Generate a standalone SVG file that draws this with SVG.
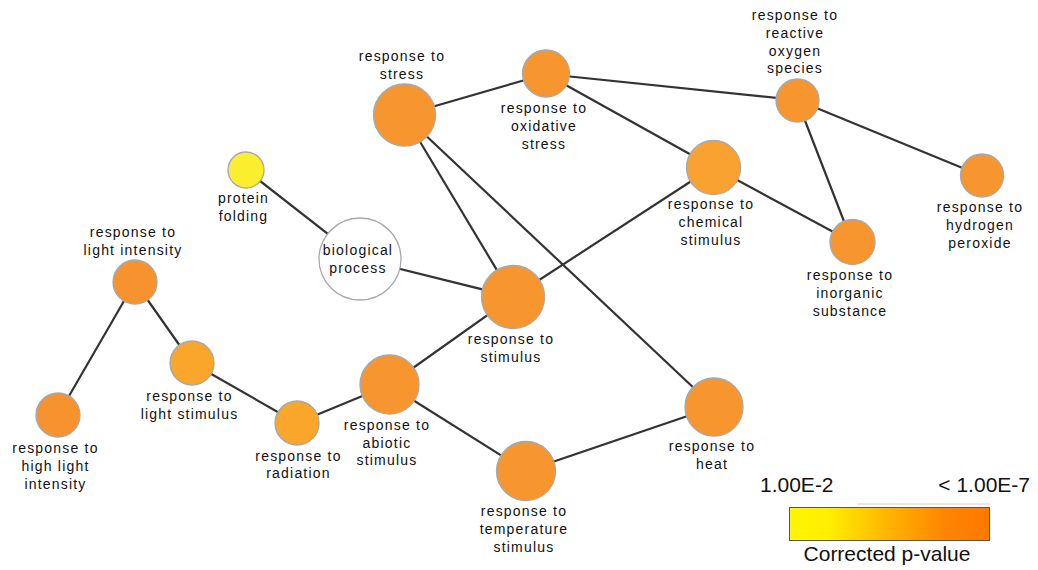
<svg xmlns="http://www.w3.org/2000/svg" width="1038" height="570" viewBox="0 0 1038 570">
<defs>
<linearGradient id="pv" x1="0" y1="0" x2="1" y2="0">
<stop offset="0" stop-color="#FFF700"/>
<stop offset="0.2" stop-color="#FFEE00"/>
<stop offset="0.5" stop-color="#FFB300"/>
<stop offset="0.78" stop-color="#FF8500"/>
<stop offset="1" stop-color="#FF7800"/>
</linearGradient>
</defs>
<style>
.e{stroke:#333;stroke-width:2.2;fill:none;stroke-linecap:round}
.n{stroke:#a8a8a8;stroke-width:1.3}
.o{fill:#F7962F}
.o2{fill:#F7932F}
.l{fill:#F9A62B}
.c{fill:#F9A231}
.y{fill:#FAEE2E}
.w{fill:#fff}
text{font-family:"Liberation Sans",Arial,Helvetica,sans-serif;fill:#111}
.t{font-size:14px;letter-spacing:1.2px;text-anchor:middle}
.g{font-size:21px}
</style>
<rect width="1038" height="570" fill="#fff"/>
<g id="connectors">
<line class="e" x1="404" y1="115" x2="546" y2="74"/>
<line class="e" x1="546" y1="74" x2="797" y2="100"/>
<line class="e" x1="546" y1="74" x2="713" y2="167"/>
<line class="e" x1="797" y1="100" x2="982" y2="176"/>
<line class="e" x1="797" y1="100" x2="852" y2="242"/>
<line class="e" x1="713" y1="167" x2="852" y2="242"/>
<line class="e" x1="713" y1="167" x2="513" y2="297"/>
<line class="e" x1="404" y1="115" x2="513" y2="297"/>
<line class="e" x1="404" y1="115" x2="714" y2="407"/>
<line class="e" x1="246" y1="170" x2="360" y2="259"/>
<line class="e" x1="360" y1="259" x2="513" y2="297"/>
<line class="e" x1="513" y1="297" x2="389" y2="385"/>
<line class="e" x1="389" y1="385" x2="297" y2="423"/>
<line class="e" x1="389" y1="385" x2="526" y2="471"/>
<line class="e" x1="526" y1="471" x2="714" y2="407"/>
<line class="e" x1="297" y1="423" x2="192" y2="363"/>
<line class="e" x1="192" y1="363" x2="135" y2="282"/>
<line class="e" x1="135" y1="282" x2="58" y2="415"/>
</g>
<g id="n-stress"><circle class="n o" cx="404.5" cy="115" r="31"/><text class="t" x="402" y="61">response to</text><text class="t" x="402" y="79">stress</text></g>
<g id="n-oxidative"><circle class="n o" cx="546" cy="73.5" r="23.5"/><text class="t" x="544" y="113">response to</text><text class="t" x="544" y="131">oxidative</text><text class="t" x="544" y="149">stress</text></g>
<g id="n-ros"><circle class="n o" cx="797.5" cy="100.5" r="21.5"/><text class="t" x="795" y="20">response to</text><text class="t" x="795" y="38">reactive</text><text class="t" x="795" y="55.5">oxygen</text><text class="t" x="795" y="73">species</text></g>
<g id="n-h2o2"><circle class="n o" cx="982" cy="175.5" r="21.5"/><text class="t" x="980" y="212">response to</text><text class="t" x="980" y="230">hydrogen</text><text class="t" x="980" y="248">peroxide</text></g>
<g id="n-inorganic"><circle class="n o" cx="852.5" cy="242" r="22.5"/><text class="t" x="850" y="280">response to</text><text class="t" x="850" y="298">inorganic</text><text class="t" x="850" y="316">substance</text></g>
<g id="n-chemical"><circle class="n c" cx="713.5" cy="167.5" r="27"/><text class="t" x="711" y="209">response to</text><text class="t" x="711" y="227">chemical</text><text class="t" x="711" y="245">stimulus</text></g>
<g id="n-protein"><circle class="n y" cx="246" cy="170" r="18"/><text class="t" x="243.5" y="203">protein</text><text class="t" x="243.5" y="221">folding</text></g>
<g id="n-biological"><circle class="n w" cx="360" cy="259" r="41"/><text class="t" x="358" y="255">biological</text><text class="t" x="358" y="273">process</text></g>
<g id="n-stimulus"><circle class="n o" cx="513" cy="297" r="31.5"/><text class="t" x="511" y="344">response to</text><text class="t" x="511" y="362">stimulus</text></g>
<g id="n-lightint"><circle class="n o2" cx="135" cy="282" r="22"/><text class="t" x="133" y="237">response to</text><text class="t" x="133" y="255">light intensity</text></g>
<g id="n-lightstim"><circle class="n l" cx="192" cy="363" r="22"/><text class="t" x="189.5" y="401">response to</text><text class="t" x="189.5" y="418.5">light stimulus</text></g>
<g id="n-highlight"><circle class="n o2" cx="58" cy="415" r="22"/><text class="t" x="55.5" y="453">response to</text><text class="t" x="55.5" y="471">high light</text><text class="t" x="55.5" y="489">intensity</text></g>
<g id="n-radiation"><circle class="n l" cx="297" cy="423" r="22"/><text class="t" x="298.5" y="461">response to</text><text class="t" x="298.5" y="478">radiation</text></g>
<g id="n-abiotic"><circle class="n o" cx="389.5" cy="384.5" r="29.5"/><text class="t" x="387" y="430">response to</text><text class="t" x="387" y="447.5">abiotic</text><text class="t" x="387" y="465">stimulus</text></g>
<g id="n-temperature"><circle class="n o" cx="526" cy="471" r="29.5"/><text class="t" x="524" y="516">response to</text><text class="t" x="524" y="534">temperature</text><text class="t" x="524" y="552">stimulus</text></g>
<g id="n-heat"><circle class="n o" cx="714" cy="407" r="29"/><text class="t" x="712" y="451">response to</text><text class="t" x="712" y="468.5">heat</text></g>
<g id="legend">
<text class="g" x="760" y="492">1.00E-2</text>
<text class="g" x="1030" y="492" text-anchor="end">&lt; 1.00E-7</text>
<line x1="857" y1="504" x2="990" y2="504" stroke="#d0d0d0" stroke-width="1"/>
<rect x="789.5" y="507.5" width="200" height="33" fill="url(#pv)" stroke="#555" stroke-width="1"/>
<text class="g" x="887" y="561" text-anchor="middle">Corrected p-value</text>
</g>
</svg>
